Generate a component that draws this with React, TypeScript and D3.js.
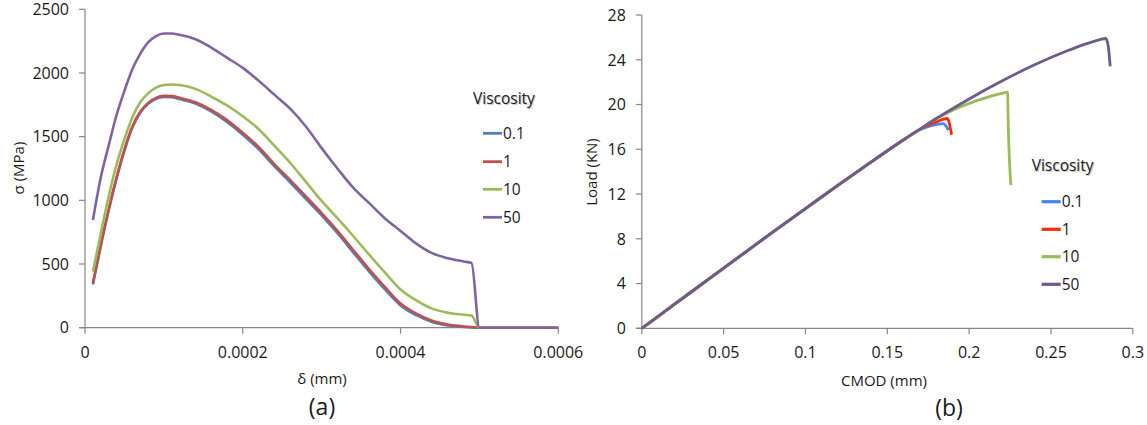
import React from "react";
import * as d3 from "d3";

// ---------- Panel (a): stress vs displacement ----------
const leftX = [
  0.00001, 0.00002, 0.00003, 0.00004, 0.00005, 0.00006, 0.00007, 0.00008, 0.00009, 0.0001,
  0.00011, 0.00012, 0.00014, 0.00016, 0.00018, 0.0002, 0.00022, 0.00024, 0.00026, 0.00028,
  0.0003, 0.00032, 0.00034, 0.00036, 0.00038, 0.0004, 0.00042, 0.00044, 0.00046, 0.00048,
  0.00049, 0.0005, 0.0006,
];
const leftV01 = [340, 640, 920, 1170, 1390, 1570, 1688, 1758, 1798, 1812, 1810, 1795, 1760, 1698, 1615, 1515, 1402, 1268, 1142, 1012, 882, 742, 592, 442, 302, 175, 98, 45, 18, 6, 2, 0, 0];
const leftV1 = [349, 650, 930, 1180, 1400, 1580, 1695, 1765, 1805, 1820, 1818, 1805, 1770, 1710, 1630, 1530, 1420, 1285, 1160, 1030, 900, 760, 610, 460, 320, 190, 110, 55, 25, 10, 5, 0, 0];
const leftV10 = [440, 740, 1030, 1280, 1480, 1650, 1770, 1840, 1885, 1905, 1910, 1905, 1875, 1815, 1745, 1660, 1560, 1430, 1295, 1145, 995, 860, 720, 575, 435, 300, 215, 150, 118, 102, 95, 0, 0];
const leftV50 = [845, 1180, 1430, 1670, 1860, 2030, 2150, 2240, 2290, 2310, 2310, 2300, 2265, 2200, 2120, 2040, 1940, 1830, 1720, 1580, 1410, 1250, 1100, 980, 860, 760, 660, 585, 545, 520, 508, 0, 0];

const leftXTicks = [0, 0.0002, 0.0004, 0.0006];
const leftXTickLabels = ["0", "0.0002", "0.0004", "0.0006"];
const leftYTicks = [0, 500, 1000, 1500, 2000, 2500];

// ---------- Panel (b): load vs CMOD ----------
const rBaseX = [0, 0.02, 0.04, 0.06, 0.08, 0.1, 0.12, 0.14, 0.16];
const rBaseY = [0, 2.15, 4.3, 6.45, 8.6, 10.7, 12.8, 14.85, 16.85];

const r01X = [...rBaseX, 0.17, 0.178, 0.1842, 0.1858, 0.1873];
const r01Y = [...rBaseY, 17.75, 18.15, 18.3, 18.1, 17.7];
const r1X = [...rBaseX, 0.17, 0.18, 0.1865, 0.1875, 0.1885, 0.1893];
const r1Y = [...rBaseY, 17.8, 18.45, 18.75, 18.55, 17.9, 17.3];
const r10X = [...rBaseX, 0.17, 0.18, 0.19, 0.2, 0.21, 0.22, 0.2235, 0.2238, 0.2255];
const r10Y = [...rBaseY, 17.8, 18.75, 19.5, 20.1, 20.6, 21.0, 21.1, 18.9, 12.8];
const r50X = [...rBaseX, 0.17, 0.18, 0.2, 0.22, 0.24, 0.26, 0.27, 0.28, 0.2835, 0.285, 0.2862];
const r50Y = [...rBaseY, 17.8, 18.75, 20.5, 22.1, 23.55, 24.8, 25.35, 25.8, 25.9, 25.2, 23.4];

const rightXTicks = [0, 0.05, 0.1, 0.15, 0.2, 0.25, 0.3];
const rightXTickLabels = ["0", "0.05", "0.1", "0.15", "0.2", "0.25", "0.3"];
const rightYTicks = [0, 4, 8, 12, 16, 20, 24, 28];

const seriesNames = ["0.1", "1", "10", "50"];
const leftColors = ["#4F81BD", "#C0504D", "#9BBB59", "#8064A2"];
const rightColors = ["#4285F4", "#FF2A00", "#9BBB59", "#6E5A8C"];

const FONT = "'Open Sans', 'DejaVu Sans', sans-serif";
const AXIS = "#868686";
const TXT = "#1a1a1a";

const xL = d3.scaleLinear().domain([0, 0.0006]).range([85, 558.3]);
const yL = d3.scaleLinear().domain([0, 2500]).range([327.7, 9.3]);
const xR = d3.scaleLinear().domain([0, 0.3]).range([641.8, 1132.8]);
const yR = d3.scaleLinear().domain([0, 28]).range([328.3, 15]);

function pathFor(xs: number[], ys: number[], sx: any, sy: any) {
  const pts: [number, number][] = xs.map((x, i) => [x, ys[i]]);
  return d3
    .line<[number, number]>()
    .x((d) => sx(d[0]))
    .y((d) => sy(d[1]))
    .curve(d3.curveMonotoneX)(pts) as string;
}

function Axes({ sx, sy, xt, xtl, yt }: any) {
  const [x0, x1] = sx.range();
  const [y0, y1] = sy.range();
  return (
    <g>
      <line x1={x0} x2={x0} y1={y0} y2={y1} stroke={AXIS} strokeWidth={1.2} />
      <line x1={x0 - 6} x2={x1} y1={y0} y2={y0} stroke={AXIS} strokeWidth={1.2} />
      {yt.map((t: number) => (
        <g key={"y" + t}>
          <line x1={x0 - 6} x2={x0} y1={sy(t)} y2={sy(t)} stroke={AXIS} strokeWidth={1.2} />
          <text x={x0 - 16} y={sy(t)} dy="0.36em" textAnchor="end" fontSize={16} fill={TXT} fontFamily={FONT}>
            {String(t)}
          </text>
        </g>
      ))}
      {xt.map((t: number, i: number) => (
        <g key={"x" + t}>
          <line x1={sx(t)} x2={sx(t)} y1={y0} y2={y0 + 6} stroke={AXIS} strokeWidth={1.2} />
          <text x={sx(t)} y={352} dy="0.36em" textAnchor="middle" fontSize={16} fill={TXT} fontFamily={FONT}>
            {xtl[i]}
          </text>
        </g>
      ))}
    </g>
  );
}

function Legend({ x, titleY, itemYs, colors, width }: any) {
  return (
    <g fontFamily={FONT}>
      <text x={x + 1} y={titleY + 1} dy="0.36em" fontSize={15.5} fill="#c8c8c8">Viscosity</text>
      <text x={x} y={titleY} dy="0.36em" fontSize={15.5} fill={TXT}>Viscosity</text>
      {seriesNames.map((n, i) => (
        <g key={n}>
          <line x1={x + 10} x2={x + 29} y1={itemYs[i]} y2={itemYs[i]} stroke={colors[i]} strokeWidth={width} />
          <text x={x + 30} y={itemYs[i]} dy="0.36em" fontSize={15.5} fill={TXT}>{n}</text>
        </g>
      ))}
    </g>
  );
}

export default function App() {
  const leftSeries = [leftV01, leftV1, leftV10, leftV50];
  const rightSeries: [number[], number[]][] = [
    [r01X, r01Y],
    [r1X, r1Y],
    [r10X, r10Y],
    [r50X, r50Y],
  ];
  return (
    <svg width={1147} height={425} style={{ position: "absolute", left: 0, top: 0, background: "#fff" }}>
      <rect width={1147} height={425} fill="#fff" />
      {/* Panel a */}
      <Axes sx={xL} sy={yL} xt={leftXTicks} xtl={leftXTickLabels} yt={leftYTicks} />
      {leftSeries.map((v, i) => (
        <path key={i} d={pathFor(leftX, v, xL, yL)} fill="none" stroke={leftColors[i]} strokeWidth={2.6} strokeLinejoin="round" />
      ))}
      <Legend x={473} titleY={98} itemYs={[133.3, 161.7, 189.3, 217.3]} colors={leftColors} width={2.8} />
      <text transform="translate(19,168) rotate(-90)" textAnchor="middle" dy="0.36em" fontSize={15} fill={TXT} fontFamily={FONT}>σ (MPa)</text>
      <text x={322} y={379} dy="0.36em" textAnchor="middle" fontSize={15} fill={TXT} fontFamily={FONT}>δ (mm)</text>
      <text x={322} y={407} dy="0.36em" textAnchor="middle" fontSize={23} fill={TXT} fontFamily={FONT}>(a)</text>

      {/* Panel b */}
      <Axes sx={xR} sy={yR} xt={rightXTicks} xtl={rightXTickLabels} yt={rightYTicks} />
      {rightSeries.map(([xs, ys], i) => (
        <path key={i} d={pathFor(xs, ys, xR, yR)} fill="none" stroke={rightColors[i]} strokeWidth={2.8} strokeLinejoin="round" />
      ))}
      <Legend x={1031.7} titleY={165} itemYs={[201.7, 229.3, 256.7, 284.3]} colors={rightColors} width={3.2} />
      <text transform="translate(592,172) rotate(-90)" textAnchor="middle" dy="0.36em" fontSize={15} fill={TXT} fontFamily={FONT}>Load (KN)</text>
      <text x={884} y={381} dy="0.36em" textAnchor="middle" fontSize={15} fill={TXT} fontFamily={FONT}>CMOD (mm)</text>
      <text x={949} y={408} dy="0.36em" textAnchor="middle" fontSize={23} fill={TXT} fontFamily={FONT}>(b)</text>
    </svg>
  );
}
